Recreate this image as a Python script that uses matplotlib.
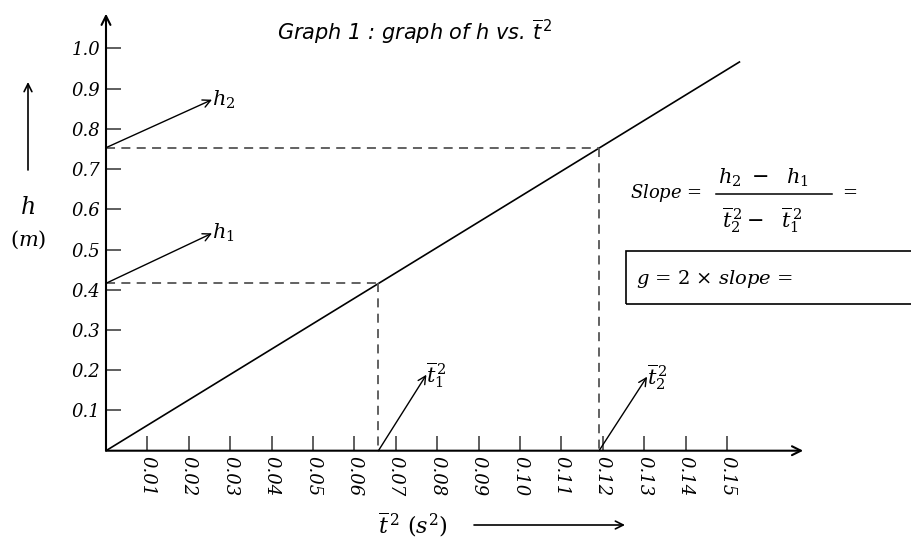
import matplotlib.pyplot as plt
from matplotlib.patches import Rectangle

plt.rcParams['mathtext.fontset'] = 'dejavuserif'

# height h (m) against mean time squared (s^2)
t_line = [0.0, 0.153]
h_line = [0.0, 0.966]

# the two points
t1, h1 = 0.0658, 0.416
t2, h2 = 0.1191, 0.753

x_ticks = [0.01, 0.02, 0.03, 0.04, 0.05, 0.06, 0.07, 0.08,
           0.09, 0.10, 0.11, 0.12, 0.13, 0.14, 0.15]
x_labels = ['0.01', '0.02', '0.03', '0.04', '0.05', '0.06', '0.07', '0.08',
            '0.09', '0.10', '0.11', '0.12', '0.13', '0.14', '0.15']
y_ticks = [0.1, 0.2, 0.3, 0.4, 0.5, 0.6, 0.7, 0.8, 0.9, 1.0]
y_labels = ['0.1', '0.2', '0.3', '0.4', '0.5', '0.6', '0.7', '0.8', '0.9', '1.0']

W, H = 912, 542
fig = plt.figure(figsize=(W / 100, H / 100), dpi=100)
ax = fig.add_axes([106 / W, 91.3 / H, 0.17 * 4140 / W, 1.09 * 402.4 / H])
ax.set_xlim(0, 0.17)
ax.set_ylim(0, 1.09)
for s in ax.spines.values():
    s.set_visible(False)

# axes drawn as arrows
arrow = dict(arrowstyle='->', color='black', lw=1.5, shrinkA=0, shrinkB=0,
             mutation_scale=16)
ax.annotate('', xy=(0.1684, 0), xytext=(0, 0), arrowprops=arrow,
            annotation_clip=False)
ax.annotate('', xy=(0, 1.086), xytext=(0, 0), arrowprops=arrow,
            annotation_clip=False)

tick_font = dict(family='DejaVu Serif', style='italic', size=13)
ax.set_xticks(x_ticks)
ax.set_xticklabels(x_labels, rotation=-90, **tick_font)
ax.set_yticks(y_ticks)
ax.set_yticklabels(y_labels, **tick_font)
ax.tick_params(direction='in', length=11, width=1.1, color='#333333', pad=4)

# fitted straight line
ax.plot(t_line, h_line, color='black', lw=1.2)

# dashed guides to the two chosen points
dash = dict(color='#555555', lw=1.3, ls=(0, (5, 3.5)))
ax.plot([0, t1], [h1, h1], **dash)
ax.plot([t1, t1], [h1, 0], **dash)
ax.plot([0, t2], [h2, h2], **dash)
ax.plot([t2, t2], [h2, 0], **dash)

small = dict(arrowstyle='<-', color='black', lw=1.0, shrinkA=0, shrinkB=0,
             patchA=None, relpos=(0, 0.5), mutation_scale=14)
lab = dict(textcoords='offset pixels', fontsize=15, ha='left', va='center',
           annotation_clip=False)
ax.annotate(r'$h_2$', xy=(0, h2), xytext=(106, 48), arrowprops=small, **lab)
ax.annotate(r'$h_1$', xy=(0, h1), xytext=(106, 50), arrowprops=small, **lab)
ax.annotate(r'$\overline{t}_1^{\,2}$', xy=(t1, 0), xytext=(48, 76),
            arrowprops=small, **lab)
ax.annotate(r'$\overline{t}_2^{\,2}$', xy=(t2, 0), xytext=(48, 74),
            arrowprops=small, **lab)

# title
fig.text(415 / W, 1 - 32 / H, r'Graph 1 : graph of h vs. $\overline{t}^{\,2}$',
         family='DejaVu Sans', style='italic', fontsize=15,
         math_fontfamily='dejavusans', ha='center', va='center')

# y axis label with arrow
fig.text(28 / W, 1 - 207 / H, r'$h$', fontsize=17, ha='center', va='center')
fig.text(28 / W, 1 - 240 / H, r'$(m)$', fontsize=15, ha='center', va='center')
small_fig = dict(arrowstyle='->', lw=1.2, color='black', shrinkA=0, shrinkB=0,
                 mutation_scale=14)
ax.annotate('', xy=(28 / W, 1 - 82 / H), xytext=(28 / W, 1 - 170 / H),
            xycoords='figure fraction', arrowprops=small_fig)

# x axis label with arrow
fig.text(413 / W, 1 - 525 / H, r'$\overline{t}^{\,2}\ (s^2)$', fontsize=16,
         ha='center', va='center')
ax.annotate('', xy=(625 / W, 1 - 525 / H), xytext=(474 / W, 1 - 525 / H),
            xycoords='figure fraction', arrowprops=small_fig)

# slope formula, written as a stacked fraction
fig.text(630 / W, 1 - 193 / H, r'$Slope$ =', fontsize=13,
         family='DejaVu Serif', ha='left', va='center')
fig.text(764 / W, 1 - 178 / H, r'$h_2\ -\ \ h_1$', fontsize=15,
         ha='center', va='center')
fig.add_artist(plt.Line2D([716 / W, 832 / W], [1 - 194 / H, 1 - 194 / H],
                          color='black', lw=1.1))
fig.text(762 / W, 1 - 220 / H, r'$\overline{t}_2^{\,2}-\ \ \overline{t}_1^{\,2}$',
         fontsize=15, ha='center', va='center')
fig.text(842 / W, 1 - 193 / H, '=', fontsize=13, family='DejaVu Serif',
         ha='left', va='center')

# result box
fig.add_artist(Rectangle((626 / W, 1 - 304 / H), (W - 626) / W + 0.01,
                         (304 - 251) / H, transform=fig.transFigure,
                         fill=False, ec='black', lw=1.2, clip_on=False))
fig.text(636 / W, 1 - 279 / H, r'$g$ = 2 $\times$ $slope$ =', fontsize=14,
         family='DejaVu Serif', ha='left', va='center')

fig.savefig('out.png', dpi=100)
